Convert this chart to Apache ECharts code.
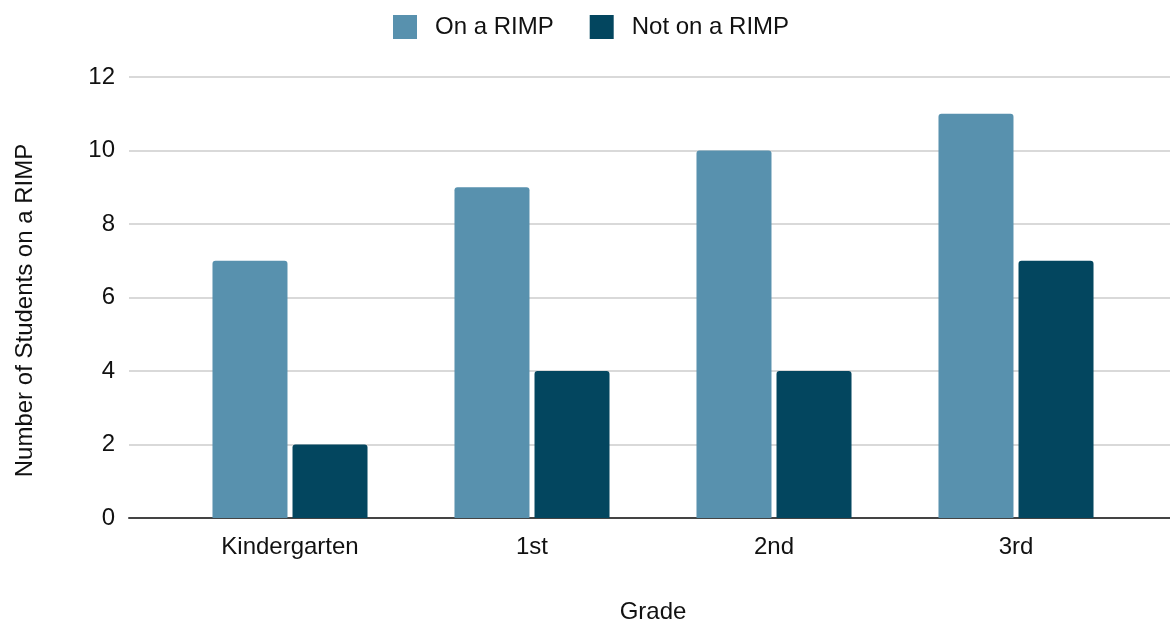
<!DOCTYPE html>
<html>
<head>
<meta charset="utf-8">
<script src="https://cdn.jsdelivr.net/npm/echarts@6/dist/echarts.min.js"></script>
<style>
  html, body { margin: 0; padding: 0; background: #fff; }
  #chart { width: 1170px; height: 624px; }
</style>
</head>
<body>
<div id="chart"></div>
<script>
// Students on a RIMP by grade
const grades = ['Kindergarten', '1st', '2nd', '3rd'];
const onRimp = [7, 9, 10, 11];
const notOnRimp = [2, 4, 4, 7];
const yTicks = { min: 0, max: 12, interval: 2 };

const FONT = '"Liberation Sans", Arial, sans-serif';
const TEXT = '#111111';
const LIGHT = '#5891ae';
const DARK = '#03465f';

const chart = echarts.init(document.getElementById('chart'), null, { renderer: 'canvas' });

chart.setOption({
  animation: false,
  textStyle: { fontFamily: FONT },
  legend: {
    left: 388,
    top: 10,
    itemWidth: 24,
    itemHeight: 24,
    itemGap: 36,
    icon: 'rect',
    textStyle: { fontSize: 24, color: TEXT, fontFamily: FONT, padding: [0, 0, 0, 13] },
    data: ['On a RIMP', 'Not on a RIMP']
  },
  grid: [
    // background grid: gridlines, value labels and baseline
    { left: 129, right: 0, top: 77, bottom: 106, outerBoundsMode: 'none', containLabel: false },
    // bar grid
    { left: 169, right: 33, top: 77, bottom: 106, outerBoundsMode: 'none', containLabel: false }
  ],
  xAxis: [
    {
      gridIndex: 0, type: 'value', min: 0, max: 1,
      axisLine: { show: true, onZero: false, lineStyle: { color: '#444', width: 2 } },
      axisTick: { show: false }, axisLabel: { show: false }, splitLine: { show: false }
    },
    {
      gridIndex: 1, type: 'category', data: grades,
      name: 'Grade', nameLocation: 'middle', nameGap: 82,
      nameTextStyle: { fontSize: 24, color: TEXT, fontFamily: FONT },
      axisLine: { show: false }, axisTick: { show: false },
      axisLabel: { fontSize: 24, color: TEXT, fontFamily: FONT, margin: 17 }
    }
  ],
  yAxis: [
    {
      gridIndex: 0, type: 'value', min: yTicks.min, max: yTicks.max, interval: yTicks.interval,
      name: 'Number of Students on a RIMP', nameLocation: 'middle', nameGap: 92,
      nameTextStyle: { fontSize: 24, color: TEXT, fontFamily: FONT, padding: [0, 26, 0, 0] },
      axisLine: { show: false }, axisTick: { show: false },
      axisLabel: { fontSize: 24, color: TEXT, fontFamily: FONT, margin: 14 },
      splitLine: { lineStyle: { color: '#cccccc', width: 1.5 } }
    },
    {
      gridIndex: 1, type: 'value', min: yTicks.min, max: yTicks.max, interval: yTicks.interval,
      show: false, splitLine: { show: false }
    }
  ],
  series: [
    {
      name: 'On a RIMP', type: 'bar', xAxisIndex: 1, yAxisIndex: 1,
      data: onRimp, barWidth: 75, barGap: '6.7%',
      itemStyle: { color: LIGHT, borderRadius: [3, 3, 0, 0] }
    },
    {
      name: 'Not on a RIMP', type: 'bar', xAxisIndex: 1, yAxisIndex: 1,
      data: notOnRimp, barWidth: 75, barGap: '6.7%',
      itemStyle: { color: DARK, borderRadius: [3, 3, 0, 0] }
    }
  ]
});
</script>
</body>
</html>
